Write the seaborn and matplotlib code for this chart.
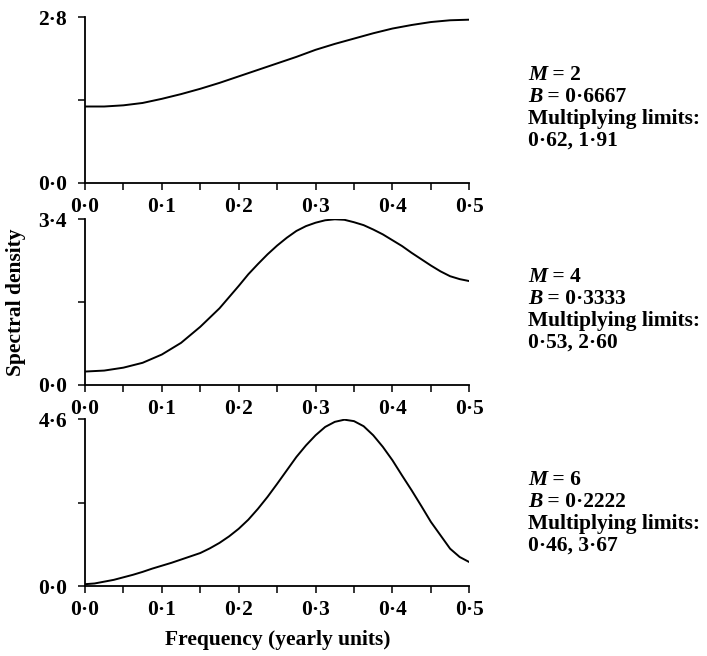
import matplotlib
matplotlib.use("Agg")
import matplotlib.pyplot as plt
import matplotlib.ticker as mticker
import seaborn as sns
import pandas as pd

# ---- data ----
freq1 = [0.0, 0.025, 0.05, 0.075, 0.1, 0.125, 0.15, 0.175, 0.2, 0.225, 0.25,
         0.275, 0.3, 0.325, 0.35, 0.375, 0.4, 0.425, 0.45, 0.475, 0.5]
dens1 = [1.29, 1.29, 1.31, 1.35, 1.42, 1.50, 1.59, 1.69, 1.80, 1.91, 2.02,
         2.13, 2.25, 2.35, 2.44, 2.53, 2.61, 2.67, 2.72, 2.75, 2.76]

freq2 = [0.0, 0.025, 0.05, 0.075, 0.1, 0.125, 0.15, 0.175, 0.2,
         0.2125, 0.225, 0.2375, 0.25, 0.2625, 0.275, 0.2875, 0.3, 0.3125, 0.325,
         0.3375, 0.35, 0.3625, 0.375, 0.3875, 0.4, 0.4125, 0.425, 0.4375, 0.45,
         0.4625, 0.475, 0.4875, 0.5]
dens2 = [0.27, 0.29, 0.35, 0.45, 0.62, 0.86, 1.19, 1.57, 2.03,
         2.27, 2.48, 2.68, 2.86, 3.02, 3.16, 3.26, 3.33, 3.38, 3.40,
         3.39, 3.34, 3.28, 3.19, 3.09, 2.97, 2.85, 2.71, 2.58, 2.45,
         2.33, 2.23, 2.17, 2.13]

freq3 = [0.0, 0.0125, 0.025, 0.0375, 0.05, 0.0625, 0.075, 0.0875, 0.1, 0.1125,
         0.125, 0.1375, 0.15, 0.1625, 0.175, 0.1875, 0.2, 0.2125, 0.225, 0.2375,
         0.25, 0.2625, 0.275, 0.2875, 0.3, 0.3125, 0.325, 0.3375, 0.35, 0.3625,
         0.375, 0.3875, 0.4, 0.4125, 0.425, 0.4375, 0.45, 0.4625, 0.475, 0.4875, 0.5]
dens3 = [0.05, 0.07, 0.12, 0.17, 0.24, 0.31, 0.39, 0.48, 0.56, 0.64,
         0.73, 0.82, 0.91, 1.04, 1.19, 1.37, 1.58, 1.83, 2.13, 2.46,
         2.82, 3.19, 3.56, 3.88, 4.16, 4.39, 4.53, 4.59, 4.55, 4.41,
         4.16, 3.84, 3.47, 3.05, 2.64, 2.21, 1.77, 1.40, 1.03, 0.80, 0.66]

ymax = [2.8, 3.4, 4.6]
x_ticks = [0.0, 0.1, 0.2, 0.3, 0.4, 0.5]
m_labels = ["2", "4", "6"]
b_labels = ["0·6667", "0·3333", "0·2222"]
limit_labels = ["0·62, 1·91", "0·53, 2·60", "0·46, 3·67"]
x_label = "Frequency (yearly units)"
y_label = "Spectral density"

sns.set_theme(style="ticks")
plt.rcParams["font.family"] = ["Liberation Serif", "DejaVu Serif"]
plt.rcParams["font.weight"] = "bold"

FS = 15.5
fig = plt.figure(figsize=(7.07, 6.56), dpi=100)

boxes = [
    [0.1202, 0.7215, 0.5436, 0.2521],
    [0.1202, 0.4136, 0.5436, 0.2521],
    [0.1202, 0.1067, 0.5436, 0.2541],
]
datasets = [(freq1, dens1), (freq2, dens2), (freq3, dens3)]
text_y = [75, 277, 480]


def fmt(v, pos=None):
    return f"{v:.1f}".replace(".", "·")


for i, (box, (fx, dy)) in enumerate(zip(boxes, datasets)):
    ax = fig.add_axes(box)
    df = pd.DataFrame({"freq": fx, "dens": dy})
    sns.lineplot(data=df, x="freq", y="dens", ax=ax, color="black", linewidth=1.4,
                 solid_joinstyle="round", solid_capstyle="round")
    ax.set_xlim(0, 0.5)
    ax.set_ylim(0, ymax[i])
    for s in ["top", "right"]:
        ax.spines[s].set_visible(False)
    for s in ["left", "bottom"]:
        ax.spines[s].set_linewidth(1.3)
        ax.spines[s].set_color("black")
    ax.set_xticks(x_ticks)
    ax.xaxis.set_major_formatter(mticker.FuncFormatter(fmt))
    ax.xaxis.set_minor_locator(mticker.MultipleLocator(0.05))
    ax.set_yticks([0.0, ymax[i]])
    ax.yaxis.set_major_formatter(mticker.FuncFormatter(fmt))
    ax.yaxis.set_minor_locator(mticker.FixedLocator([ymax[i] / 2]))
    ax.tick_params(which="both", direction="out", length=5, width=1.1, color="black",
                   labelsize=FS, labelcolor="black")
    ax.tick_params(axis="x", which="major", pad=5)
    ax.tick_params(axis="y", which="major", pad=8)
    ax.set_xlabel("")
    ax.set_ylabel("")
    ax.set_facecolor("white")

    x0 = 528 / 707
    for k in range(4):
        yk = 1 - (text_y[i] + k * 21.8) / 656
        if k == 0:
            t = fig.text(x0, yk, "M", fontsize=FS, fontstyle="italic", fontweight="bold",
                         ha="left", va="center", color="black")
            ax.annotate(f" = {m_labels[i]}", xy=(1, 0.5), xycoords=t, fontsize=FS,
                        fontweight="bold", ha="left", va="center", color="black",
                        annotation_clip=False)
        elif k == 1:
            t = fig.text(x0, yk, "B", fontsize=FS, fontstyle="italic", fontweight="bold",
                         ha="left", va="center", color="black")
            ax.annotate(f" = {b_labels[i]}", xy=(1, 0.5), xycoords=t, fontsize=FS,
                        fontweight="bold", ha="left", va="center", color="black",
                        annotation_clip=False)
        elif k == 2:
            fig.text(x0, yk, "Multiplying limits:", fontsize=FS, fontweight="bold",
                     ha="left", va="center", color="black")
        else:
            fig.text(x0, yk, limit_labels[i], fontsize=FS, fontweight="bold",
                     ha="left", va="center", color="black")

fig.text(278 / 707, 1 - 640 / 656, x_label, fontsize=FS, fontweight="bold",
         ha="center", va="center", color="black")
fig.text(16 / 707, 1 - 302 / 656, y_label, fontsize=FS, fontweight="bold",
         ha="center", va="center", rotation=90, color="black")

fig.savefig("out.png", dpi=100, facecolor="white")
